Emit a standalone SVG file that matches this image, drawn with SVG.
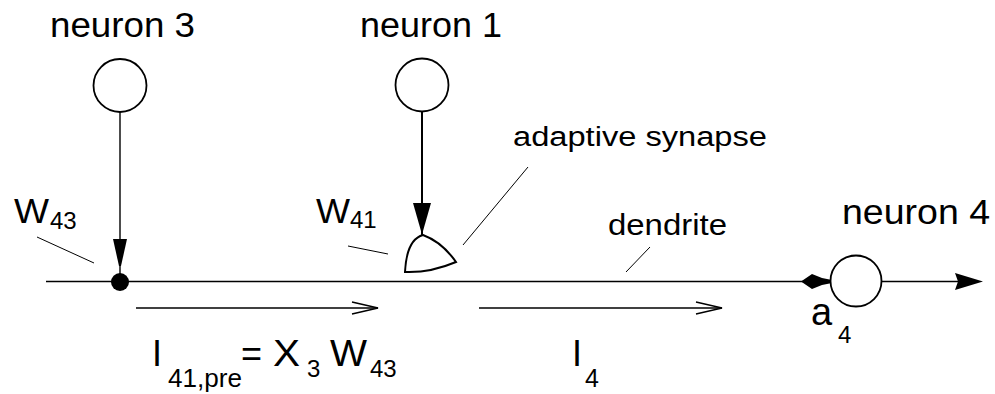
<svg xmlns="http://www.w3.org/2000/svg" width="995" height="394" viewBox="0 0 995 394">
<style>
text{font-family:"Liberation Sans",Arial,sans-serif;fill:#000}
.big{font-size:35px}
.sub{font-size:24px}
.lbl{font-size:27px}
.node{fill:#fff;stroke:#000;stroke-width:1.8}
.ln{stroke:#000;stroke-width:1.4;fill:none}
.thin{stroke:#000;stroke-width:1;fill:none}
.head{fill:#000;stroke:none}
</style>
<rect width="995" height="394" fill="#fff"/>
<g id="connectors">
<line class="ln" x1="46" y1="281.5" x2="831" y2="281.5"/>
<line class="ln" x1="120" y1="111" x2="120" y2="274"/>
<polygon class="head" points="113,239 127,239 121,266 119,266"/>
<line x1="422" y1="111" x2="422" y2="236" stroke="#000" stroke-width="2"/>
<polygon class="head" points="413,203 431,203 423,231 421,231"/>
<line class="ln" x1="881" y1="281.5" x2="975" y2="281.5"/>
<polygon class="head" points="955,273 983,281.5 955,290 958,281.5"/>
<polygon class="head" points="801,281.5 812,274 822,278 832,280 832,283 822,285 812,289"/>
<line class="ln" x1="136" y1="308" x2="378" y2="308"/>
<polyline class="ln" points="352,302 378,308 352,314"/>
<line class="ln" x1="479" y1="308" x2="722" y2="308"/>
<polyline class="ln" points="696,302 722,308 696,314"/>
<line class="thin" x1="37" y1="237" x2="94" y2="263"/>
<line class="thin" x1="348" y1="246" x2="388" y2="254"/>
<line class="thin" x1="528" y1="167" x2="463" y2="245"/>
<line class="thin" x1="650" y1="247" x2="626" y2="272"/>
</g>
<g id="neuron3">
<circle class="node" cx="120" cy="85.5" r="26.5"/>
<text class="big" x="50" y="37" textLength="145" lengthAdjust="spacingAndGlyphs">neuron 3</text>
</g>
<g id="neuron1">
<circle class="node" cx="422" cy="85" r="26.5"/>
<text class="big" x="360" y="37" textLength="142" lengthAdjust="spacingAndGlyphs">neuron 1</text>
</g>
<g id="neuron4">
<circle class="node" cx="856" cy="281" r="25.5"/>
<text class="big" x="842" y="224" textLength="148" lengthAdjust="spacingAndGlyphs">neuron 4</text>
<text x="811" y="325" style="font-size:38px">a</text>
<text class="sub" x="838" y="343">4</text>
</g>
<g id="junction">
<circle cx="120" cy="282" r="9" fill="#000"/>
<text class="big" x="14" y="223" textLength="35" lengthAdjust="spacingAndGlyphs">W</text>
<text class="sub" x="50" y="229">43</text>
</g>
<g id="synapse">
<path d="M423,235 C412,238 406,252 405,272 Q430,273 456,262 Q442,242 423,235 Z" fill="#fff" stroke="#000" stroke-width="2"/>
<text class="big" x="316" y="223" textLength="34" lengthAdjust="spacingAndGlyphs">W</text>
<text class="sub" x="350" y="228">41</text>
<text class="lbl" x="513" y="146" textLength="254" lengthAdjust="spacingAndGlyphs">adaptive synapse</text>
</g>
<g id="labels">
<text class="lbl" x="608" y="235" textLength="119" lengthAdjust="spacingAndGlyphs" style="font-size:29px">dendrite</text>
<text style="font-size:36px" x="152" y="366">I</text>
<text class="sub" x="168" y="387" textLength="74" lengthAdjust="spacingAndGlyphs" style="font-size:25px">41,pre</text>
<text style="font-size:36px" x="241" y="366">=</text>
<text style="font-size:36px" x="273" y="366" textLength="27" lengthAdjust="spacingAndGlyphs">X</text>
<text class="sub" x="307" y="377">3</text>
<text style="font-size:36px" x="330" y="366" textLength="37" lengthAdjust="spacingAndGlyphs">W</text>
<text class="sub" x="370" y="377">43</text>
<text style="font-size:36px" x="572" y="366">I</text>
<text class="sub" x="585" y="387" style="font-size:25px">4</text>
</g>
</svg>
